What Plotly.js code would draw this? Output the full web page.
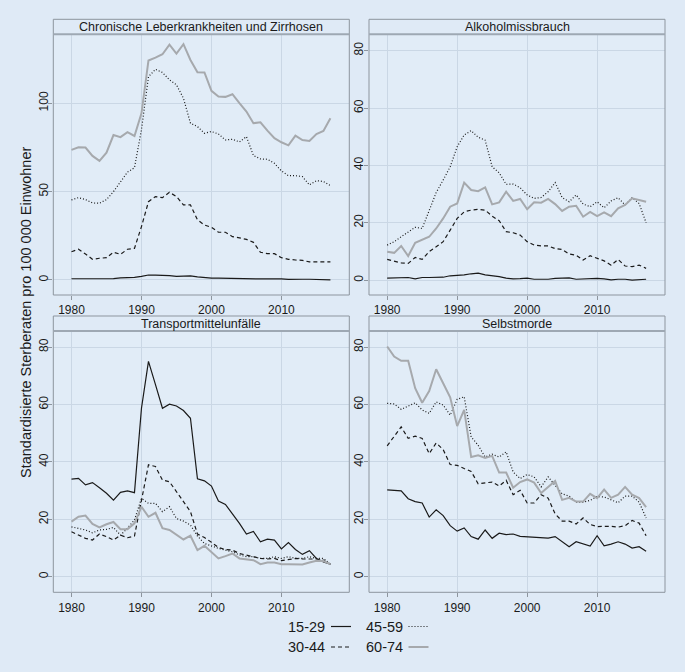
<!DOCTYPE html>
<html>
<head>
<meta charset="utf-8">
<script src="https://cdn.plot.ly/plotly-3.0.1.min.js"></script>
<style>
html,body{margin:0;padding:0;background:#dfeaf6;}
#chart{width:685px;height:672px;}
</style>
</head>
<body>
<div id="chart"></div>
<script>
const years = [1980,1981,1982,1983,1984,1985,1986,1987,1988,1989,1990,1991,1992,1993,1994,1995,1996,1997,1998,1999,2000,2001,2002,2003,2004,2005,2006,2007,2008,2009,2010,2011,2012,2013,2014,2015,2016,2017];

const groups = ["15-29","30-44","45-59","60-74"];
const panelTitles = ["Chronische Leberkrankheiten und Zirrhosen","Alkoholmissbrauch","Transportmittelunfälle","Selbstmorde"];
const yTitle = "Standardisierte Sterberaten pro 100 000 Einwohner";
const xTicks = [1980,1990,2000,2010];
const yTicksLeber = [0,50,100];
const yTicksOther = [0,20,40,60,80];

// Chronische Leberkrankheiten und Zirrhosen
const leber_15_29 = [0.7,0.7,0.8,1.0,0.6,0.6,0.8,1.2,1.2,1.5,2.0,2.8,2.7,2.7,2.5,2.0,2.2,2.3,1.8,1.2,1.0,1.0,0.9,0.9,0.8,0.6,0.3,0.6,0.6,0.8,0.6,0.3,0.5,0.4,0.4,0.4,0.2,0.1];
const leber_30_44 = [16.0,17.4,14.7,11.7,12.3,12.6,15.7,14.5,17.4,17.9,30.2,44.3,47.2,46.6,49.6,47.2,42.5,42.5,34.0,31.1,29.8,27.0,27.0,24.5,23.8,23.0,21.3,15.7,14.9,14.9,12.6,11.7,11.3,11.1,10.2,10.2,10.2,10.2];
const leber_45_59 = [45.3,46.6,45.5,43.6,43.4,45.5,50.0,55.5,61.0,63.5,85.0,115.0,119.2,117.4,113.2,110.4,102.8,88.7,86.8,83.0,84.0,82.6,79.2,79.6,78.1,81.1,70.4,68.5,68.3,66.0,61.7,59.0,59.0,58.5,53.8,56.2,55.7,53.4];
const leber_60_74 = [73.6,75.1,74.9,70.2,67.4,72.0,82.0,80.8,83.6,81.5,94.3,124.2,125.8,127.7,133.2,128.1,133.4,124.5,117.5,117.4,107.0,103.8,103.6,105.1,100.0,95.3,88.7,89.2,84.5,80.2,77.9,76.2,81.7,79.2,78.7,82.6,84.3,91.5];

// Alkoholmissbrauch
const alk_15_29 = [0.7,0.7,0.7,0.9,0.4,0.9,0.9,0.9,1.0,1.5,1.6,1.8,2.2,2.4,1.8,1.6,1.2,0.7,0.4,0.5,0.7,0.3,0.3,0.3,0.6,0.6,0.8,0.3,0.4,0.7,0.6,0.4,0.1,0.3,0.3,0.0,0.1,0.3];
const alk_30_44 = [7.2,6.6,6.0,5.8,7.9,7.2,9.9,11.6,13.4,17.4,21.5,23.8,24.4,24.7,24.4,22.3,20.7,16.9,16.5,15.7,13.4,12.2,11.9,11.9,11.0,10.7,9.1,8.7,7.0,8.5,7.6,6.7,5.2,7.2,4.9,4.7,5.2,4.1];
const alk_45_59 = [12.2,13.4,15.1,16.9,18.4,18.0,24.4,30.5,34.9,39.5,46.5,50.6,52.1,49.8,48.8,39.5,37.4,33.4,33.5,32.2,29.7,28.5,28.8,30.8,34.0,28.8,27.3,29.7,26.5,25.6,27.3,25.2,27.6,28.7,26.2,28.7,26.7,20.0];
const alk_60_74 = [9.9,9.5,11.9,8.4,13.0,14.0,15.1,18.0,21.5,25.6,26.7,34.0,31.4,31.0,32.3,26.4,27.1,30.8,27.6,28.3,24.7,27.1,27.0,28.3,26.5,24.1,25.6,25.9,22.1,23.8,22.3,23.6,22.3,25.0,26.2,28.5,27.9,27.3];

// Transportmittelunfälle
const trans_15_29 = [34.0,34.3,32.0,32.8,31.0,29.1,26.7,29.4,29.9,29.3,58.7,75.0,66.9,58.7,60.1,59.5,57.9,55.2,34.1,33.4,31.6,26.4,25.2,22.1,18.6,14.9,15.8,12.2,13.1,12.8,9.7,11.9,9.5,7.8,9.1,6.4,5.2,4.4];
const trans_30_44 = [15.7,14.5,13.4,12.8,14.9,14.0,12.8,14.5,13.6,14.2,26.7,39.0,38.4,33.7,33.1,29.7,26.2,22.7,14.9,13.7,12.0,10.2,9.5,9.3,8.1,7.6,7.0,6.4,6.2,6.4,5.6,6.0,6.4,6.2,6.2,6.2,5.8,4.4];
const trans_45_59 = [17.4,16.9,16.3,15.3,16.3,16.5,17.2,14.5,16.9,19.8,27.3,25.6,25.6,22.7,24.4,20.3,19.4,18.0,14.2,11.6,10.7,9.9,9.3,8.7,7.6,7.0,7.0,6.4,6.4,7.0,6.4,7.0,6.4,6.4,7.0,6.4,6.4,4.4];
const trans_60_74 = [19.2,20.9,21.3,18.4,17.2,18.3,19.1,16.6,16.6,18.6,24.4,20.9,22.3,16.9,16.3,14.8,13.0,14.3,9.3,10.8,8.7,6.4,7.2,8.1,6.4,6.2,5.8,4.4,5.0,5.0,4.4,4.4,4.3,4.3,5.0,5.6,5.5,4.4];

// Selbstmorde
const selbst_15_29 = [30.3,30.1,29.9,27.2,26.2,25.7,20.8,23.3,21.3,17.8,15.9,17.0,14.0,13.1,16.3,13.4,15.2,14.7,14.9,14.1,14.0,13.8,13.6,13.5,14.0,12.2,10.5,12.2,11.4,10.7,14.3,10.8,11.4,12.2,11.4,10.0,10.5,8.9];
const selbst_30_44 = [45.6,48.7,52.2,48.2,49.0,48.2,42.9,46.6,44.3,39.1,38.8,37.7,36.7,32.4,32.8,33.0,31.6,33.6,28.6,30.1,25.7,25.7,28.6,27.4,21.9,19.4,19.4,18.4,20.5,18.2,17.5,17.6,17.6,17.3,17.8,19.6,18.7,14.3];
const selbst_45_59 = [60.4,60.2,58.3,59.5,60.6,58.1,56.9,60.9,59.8,56.3,61.8,62.7,48.7,45.8,41.7,42.7,41.7,43.5,36.5,34.2,35.6,34.8,31.3,34.8,31.8,28.9,28.1,26.0,26.0,26.6,28.0,27.8,26.8,25.8,28.1,28.1,26.0,20.5];
const selbst_60_74 = [80.2,76.7,75.2,75.2,65.7,60.6,64.7,72.3,67.4,62.5,52.5,58.1,41.7,42.3,41.4,42.1,36.3,36.3,31.0,33.0,33.9,32.8,29.2,31.3,33.4,26.8,27.5,26.2,26.2,28.9,27.4,30.4,27.5,28.6,31.3,28.6,27.4,24.3];

const panelData = [
  [leber_15_29, leber_30_44, leber_45_59, leber_60_74],
  [alk_15_29, alk_30_44, alk_45_59, alk_60_74],
  [trans_15_29, trans_30_44, trans_45_59, trans_60_74],
  [selbst_15_29, selbst_30_44, selbst_45_59, selbst_60_74]
];

// ---- styling / geometry ----
const W = 685, H = 672;
const lineStyles = [
  {color:'#1a1a1a', width:1.2, dash:'solid'},
  {color:'#1a1a1a', width:1.2, dash:'4px,3px'},
  {color:'#1a1a1a', width:1.2, dash:'1px,2px'},
  {color:'#a6a9ad', width:2.0, dash:'solid'}
];
const FONT = 'Liberation Sans, Arial, sans-serif';
const frameColor = '#8d959e';
const gridColor = '#cad7e5';

// panel pixel boxes: [left, right, stripTop, plotTop, plotBottom]
const boxes = [
  [53.3, 349.3, 19.3, 34.3, 295.0],
  [369.0, 665.0, 19.3, 34.3, 295.0],
  [53.3, 349.3, 316.0, 331.0, 592.3],
  [369.0, 665.0, 316.0, 331.0, 592.3]
];
const yRanges = [[-8.5,139.0],[-5.2,85.7],[-5.4,85.6],[-5.4,85.6]];
const xRange = [1977.4, 2019.7];
const px = x => x / W;
const py = y => 1 - y / H;

const traces = [];
const layout = {
  width: W, height: H,
  margin: {l:0, r:0, t:0, b:0},
  paper_bgcolor: '#dfeaf6',
  plot_bgcolor: '#e1ecf7',
  showlegend: false,
  font: {family: FONT, size: 12, color: '#1a1a1a'},
  shapes: [],
  annotations: []
};

for (let p = 0; p < 4; p++) {
  const [l, r, st, pt, pb] = boxes[p];
  const xa = p === 0 ? 'x' : 'x' + (p + 1);
  const ya = p === 0 ? 'y' : 'y' + (p + 1);
  const xKey = p === 0 ? 'xaxis' : 'xaxis' + (p + 1);
  const yKey = p === 0 ? 'yaxis' : 'yaxis' + (p + 1);
  layout[xKey] = {
    domain: [px(l), px(r)], anchor: ya, range: xRange,
    tickvals: xTicks, ticktext: xTicks.map(String),
    ticks: 'outside', ticklen: 4, tickcolor: frameColor, tickwidth: 1,
    showgrid: true, gridcolor: gridColor, gridwidth: 1,
    zeroline: false, showline: false,
    tickfont: {family: FONT, size: 12, color: '#1a1a1a'}
  };
  const yt = p === 0 ? yTicksLeber : yTicksOther;
  layout[yKey] = {
    domain: [py(pb), py(pt)], anchor: xa, range: yRanges[p],
    tickvals: yt, ticktext: yt.map(String), tickangle: -90,
    ticks: 'outside', ticklen: 4, tickcolor: frameColor, tickwidth: 1,
    ticklabelstandoff: -4,
    showgrid: true, gridcolor: gridColor, gridwidth: 1,
    zeroline: false, showline: false,
    tickfont: {family: FONT, size: 12, color: '#1a1a1a'}
  };
  for (let g = 0; g < 4; g++) {
    traces.push({
      type: 'scatter', mode: 'lines', x: years, y: panelData[p][g],
      xaxis: xa, yaxis: ya, name: groups[g],
      line: {color: lineStyles[g].color, width: lineStyles[g].width, dash: lineStyles[g].dash},
      hoverinfo: 'skip'
    });
  }
  // strip background + frame
  layout.shapes.push({type:'rect', xref:'paper', yref:'paper', x0:px(l), x1:px(r), y0:py(pt), y1:py(st),
    fillcolor:'#dfeaf6', line:{width:0}, layer:'below'});
  layout.shapes.push({type:'rect', xref:'paper', yref:'paper', x0:px(l), x1:px(r), y0:py(pb), y1:py(st),
    line:{color:frameColor, width:1}, fillcolor:'rgba(0,0,0,0)'});
  layout.shapes.push({type:'line', xref:'paper', yref:'paper', x0:px(l), x1:px(r), y0:py(pt), y1:py(pt),
    line:{color:'#9ea8b3', width:2}});
  layout.annotations.push({xref:'paper', yref:'paper', x:(px(l)+px(r))/2, y:py((st+pt)/2),
    text: panelTitles[p], showarrow:false, xanchor:'center', yanchor:'middle',
    font:{family:FONT, size:12.5, color:'#1a1a1a'}});
}

// y axis title
layout.annotations.push({xref:'paper', yref:'paper', x:px(26), y:py(313), text:yTitle, textangle:-90,
  showarrow:false, xanchor:'center', yanchor:'middle', font:{family:FONT, size:14.5, color:'#1a1a1a'}});

// legend (text with line sample to the right), 2 columns
const legPos = [[327, 626.5],[327, 647],[404.5, 626.5],[404.5, 647]];
for (let g = 0; g < 4; g++) {
  const [tx, ty] = legPos[g];
  layout.annotations.push({xref:'paper', yref:'paper', x:px(tx), y:py(ty), text:groups[g],
    showarrow:false, xanchor:'right', yanchor:'middle', font:{family:FONT, size:14.5, color:'#1a1a1a'}});
  layout.shapes.push({type:'line', xref:'paper', yref:'paper', x0:px(tx+4), x1:px(tx+24), y0:py(ty), y1:py(ty),
    line:{color:lineStyles[g].color, width:lineStyles[g].width, dash:lineStyles[g].dash}});
}

Plotly.newPlot('chart', traces, layout, {staticPlot:true, displayModeBar:false});
</script>
</body>
</html>
